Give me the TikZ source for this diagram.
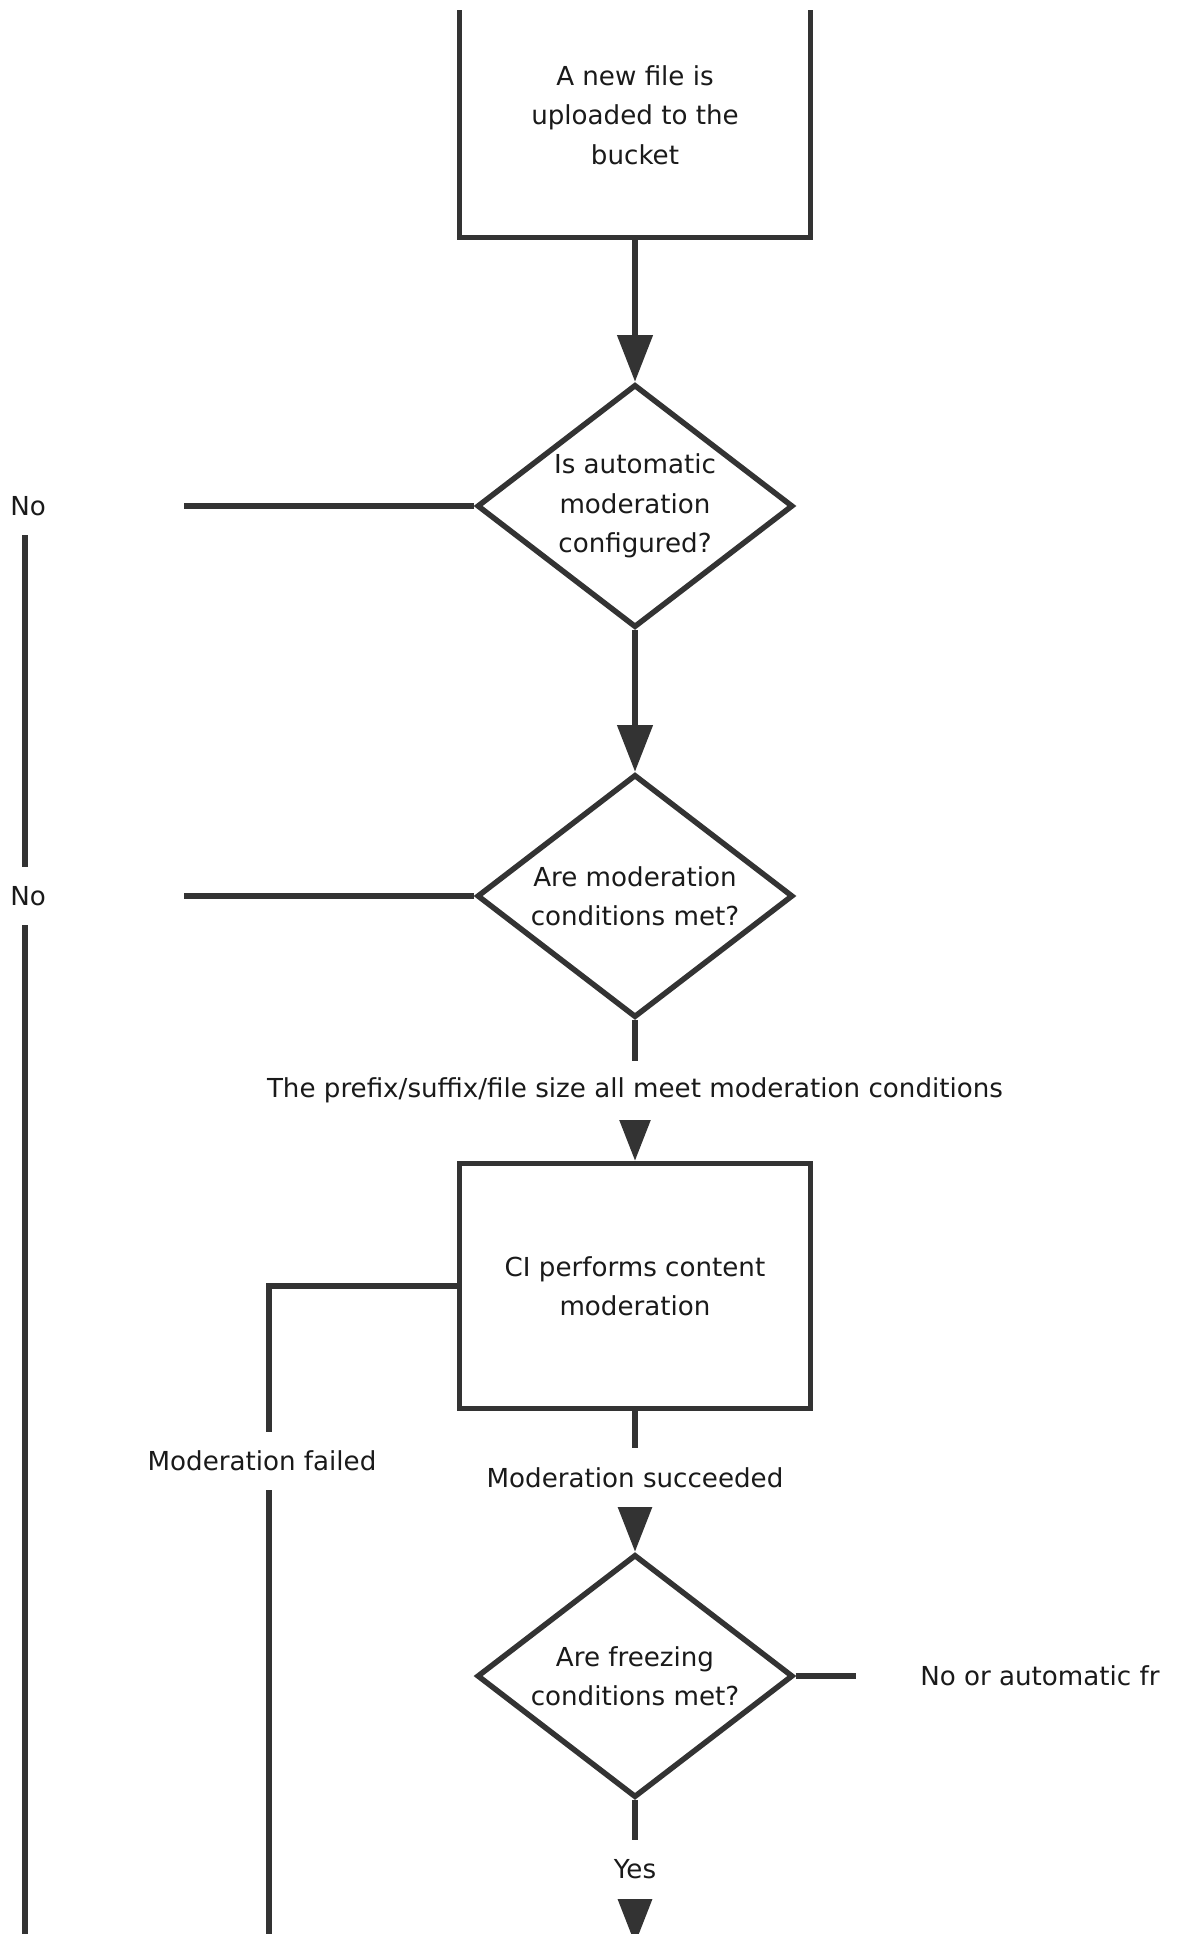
\documentclass[tikz,border=0pt]{standalone}
\usepackage{fontspec}
\setmainfont{DejaVu Sans}
\usetikzlibrary{arrows.meta,shapes.geometric}
\definecolor{ln}{HTML}{333333}
\definecolor{tx}{HTML}{1A1A1A}
\begin{document}
\begin{tikzpicture}[x=0.75pt,y=-0.75pt,
  every node/.style={font=\fontsize{19.6pt}{29.6pt}\selectfont, text=tx},
  box/.style={draw=ln, line width=4.1pt, rectangle, minimum width=263.25pt, minimum height=183.75pt, inner sep=0pt},
  dia/.style={draw=ln, line width=4.1pt, diamond, minimum width=237pt, minimum height=182.25pt, inner sep=0pt},
  txt/.style={align=center, inner sep=0pt},
  conn/.style={draw=ln, line width=4.1pt},
  arr/.style={conn, -{Triangle[width=26pt,length=35pt]}},
  lbl/.style={fill=white, inner xsep=3pt, inner ysep=0pt, minimum height=44pt}]
\useasboundingbox (0,0) rectangle (1185,1934);
\clip (0,0) rectangle (1185,1934);
\fill[white] (0,0) rectangle (1185,1934);

% nodes
\node[box] (b1) at (635,115) {};
\node[txt] (b1t) at (b1.center) {A new file is\\uploaded to the\\bucket};
\node[dia] (d1) at (635,506) {};
\node[txt] (d1t) at (d1.center) {Is automatic\\moderation\\configured?};
\node[dia] (d2) at (635,896) {};
\node[txt] (d2t) at (d2.center) {Are moderation\\conditions met?};
\node[box] (b2) at (635,1286) {};
\node[txt] (b2t) at (b2.center) {CI performs content\\moderation};
\node[dia] (d3) at (635,1676) {};
\node[txt] (d3t) at (d3.center) {Are freezing\\conditions met?};
\coordinate (n4) at (635,1944);
\coordinate (lo1) at (25,2000);
\coordinate (lo2) at (269,2000);
\coordinate (rt) at (856,1676);

% connectors
\draw[arr] (b1) -- (d1);
\draw[arr] (d1) -- (d2);
\draw[arr] (d2) -- node[lbl] (l1) {The prefix/suffix/file size all meet moderation conditions} (b2);
\draw[arr] (b2) -- node[lbl, pos=0.47] (l2) {Moderation succeeded} (d3);
\draw[arr] (d3) -- node[lbl, pos=0.48] (l3) {Yes} (n4);
\draw[conn] (d1.west) -- (d1.west -| lo1) -- (lo1);
\draw[conn] (d2.west) -- (d2.west -| lo1) -- (lo1);
\draw[conn] (b2.west) -- (b2.west -| lo2) -- (lo2);
\draw[conn] (d3.east) -- (rt);

% labels on corners
\node[lbl, anchor=west, text width=123pt, inner xsep=7.5pt, align=left] (no1) at (0,506) {No};
\node[lbl, anchor=west, text width=123pt, inner xsep=7.5pt, align=left] (no2) at (0,896) {No};
\node[lbl] (mf) at (262,1461) {Moderation failed};
\node[anchor=west, inner sep=0pt] (nr) at (920,1676) {No or automatic fr};

% white strip at top
\fill[white] (0,0) rectangle (1185,10);
\end{tikzpicture}
\end{document}
